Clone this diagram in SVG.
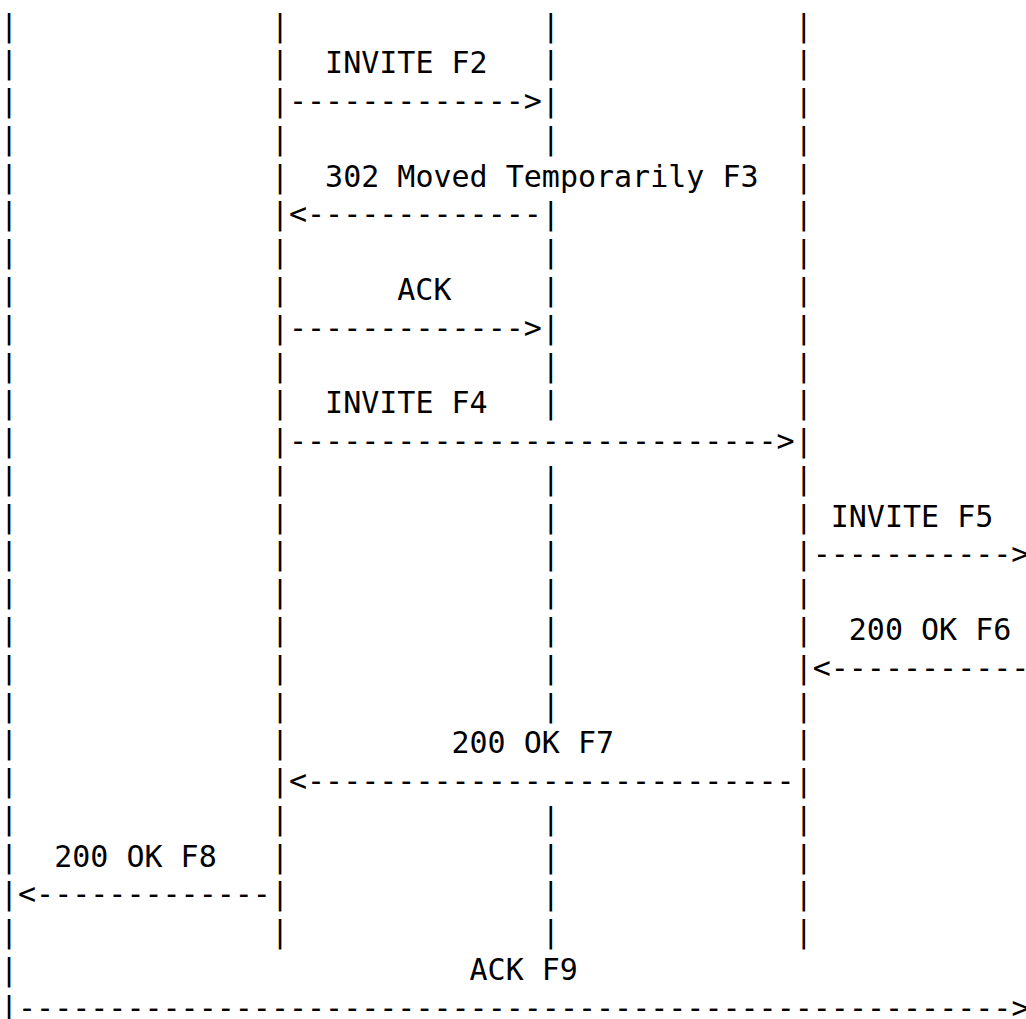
<svg xmlns="http://www.w3.org/2000/svg" width="1026" height="1019" viewBox="0 0 1026 1019">
<style>
.t{font-family:"DejaVu Sans Mono","Liberation Mono",monospace;font-size:30px;fill:#000;white-space:pre}
</style>
<rect x="0" y="0" width="1026" height="1019" fill="#fff"/>
<g id="lifeline-a">
<text class="t" x="0"><tspan x="0" y="35.5">|</tspan><tspan x="0" y="73.28">|</tspan><tspan x="0" y="111.06">|</tspan><tspan x="0" y="148.84">|</tspan><tspan x="0" y="186.62">|</tspan><tspan x="0" y="224.4">|</tspan><tspan x="0" y="262.18">|</tspan><tspan x="0" y="299.96">|</tspan><tspan x="0" y="337.74">|</tspan><tspan x="0" y="375.52">|</tspan><tspan x="0" y="413.3">|</tspan><tspan x="0" y="451.08">|</tspan><tspan x="0" y="488.86">|</tspan><tspan x="0" y="526.64">|</tspan><tspan x="0" y="564.42">|</tspan><tspan x="0" y="602.2">|</tspan><tspan x="0" y="639.98">|</tspan><tspan x="0" y="677.76">|</tspan><tspan x="0" y="715.54">|</tspan><tspan x="0" y="753.32">|</tspan><tspan x="0" y="791.1">|</tspan><tspan x="0" y="828.88">|</tspan><tspan x="0" y="866.66">|</tspan><tspan x="0" y="904.44">|</tspan><tspan x="0" y="942.22">|</tspan><tspan x="0" y="980">|</tspan><tspan x="0" y="1017.78">|</tspan></text>
</g>
<g id="lifeline-b">
<text class="t"><tspan x="270.9" y="35.5">|</tspan><tspan x="270.9" y="73.28">|</tspan><tspan x="270.9" y="111.06">|</tspan><tspan x="270.9" y="148.84">|</tspan><tspan x="270.9" y="186.62">|</tspan><tspan x="270.9" y="224.4">|</tspan><tspan x="270.9" y="262.18">|</tspan><tspan x="270.9" y="299.96">|</tspan><tspan x="270.9" y="337.74">|</tspan><tspan x="270.9" y="375.52">|</tspan><tspan x="270.9" y="413.3">|</tspan><tspan x="270.9" y="451.08">|</tspan><tspan x="270.9" y="488.86">|</tspan><tspan x="270.9" y="526.64">|</tspan><tspan x="270.9" y="564.42">|</tspan><tspan x="270.9" y="602.2">|</tspan><tspan x="270.9" y="639.98">|</tspan><tspan x="270.9" y="677.76">|</tspan><tspan x="270.9" y="715.54">|</tspan><tspan x="270.9" y="753.32">|</tspan><tspan x="270.9" y="791.1">|</tspan><tspan x="270.9" y="828.88">|</tspan><tspan x="270.9" y="866.66">|</tspan><tspan x="270.9" y="904.44">|</tspan><tspan x="270.9" y="942.22">|</tspan></text>
</g>
<g id="lifeline-c">
<text class="t"><tspan x="541.8" y="35.5">|</tspan><tspan x="541.8" y="73.28">|</tspan><tspan x="541.8" y="111.06">|</tspan><tspan x="541.8" y="148.84">|</tspan><tspan x="541.8" y="224.4">|</tspan><tspan x="541.8" y="262.18">|</tspan><tspan x="541.8" y="299.96">|</tspan><tspan x="541.8" y="337.74">|</tspan><tspan x="541.8" y="375.52">|</tspan><tspan x="541.8" y="413.3">|</tspan><tspan x="541.8" y="488.86">|</tspan><tspan x="541.8" y="526.64">|</tspan><tspan x="541.8" y="564.42">|</tspan><tspan x="541.8" y="602.2">|</tspan><tspan x="541.8" y="639.98">|</tspan><tspan x="541.8" y="677.76">|</tspan><tspan x="541.8" y="715.54">|</tspan><tspan x="541.8" y="828.88">|</tspan><tspan x="541.8" y="866.66">|</tspan><tspan x="541.8" y="904.44">|</tspan><tspan x="541.8" y="942.22">|</tspan></text>
</g>
<g id="lifeline-d">
<text class="t"><tspan x="794.64" y="35.5">|</tspan><tspan x="794.64" y="73.28">|</tspan><tspan x="794.64" y="111.06">|</tspan><tspan x="794.64" y="148.84">|</tspan><tspan x="794.64" y="186.62">|</tspan><tspan x="794.64" y="224.4">|</tspan><tspan x="794.64" y="262.18">|</tspan><tspan x="794.64" y="299.96">|</tspan><tspan x="794.64" y="337.74">|</tspan><tspan x="794.64" y="375.52">|</tspan><tspan x="794.64" y="413.3">|</tspan><tspan x="794.64" y="451.08">|</tspan><tspan x="794.64" y="488.86">|</tspan><tspan x="794.64" y="526.64">|</tspan><tspan x="794.64" y="564.42">|</tspan><tspan x="794.64" y="602.2">|</tspan><tspan x="794.64" y="639.98">|</tspan><tspan x="794.64" y="677.76">|</tspan><tspan x="794.64" y="715.54">|</tspan><tspan x="794.64" y="753.32">|</tspan><tspan x="794.64" y="791.1">|</tspan><tspan x="794.64" y="828.88">|</tspan><tspan x="794.64" y="866.66">|</tspan><tspan x="794.64" y="904.44">|</tspan><tspan x="794.64" y="942.22">|</tspan></text>
</g>
<g id="connectors">
<text class="t" x="288.96" y="111.06">-------------&gt;</text>
<text class="t" x="288.96" y="224.4">&lt;-------------</text>
<text class="t" x="288.96" y="337.74">-------------&gt;</text>
<text class="t" x="288.96" y="451.08">---------------------------&gt;</text>
<text class="t" x="812.7" y="564.42">-----------&gt;</text>
<text class="t" x="812.7" y="677.76">&lt;-----------</text>
<text class="t" x="288.96" y="791.1">&lt;---------------------------</text>
<text class="t" x="18.06" y="904.44">&lt;-------------</text>
<text class="t" x="18.06" y="1017.78">-------------------------------------------------------&gt;</text>
</g>
<g id="labels">
<text class="t" x="325.08" y="73.28">INVITE F2</text>
<text class="t" x="325.08" y="186.62">302 Moved Temporarily F3</text>
<text class="t" x="397.32" y="299.96">ACK</text>
<text class="t" x="325.08" y="413.3">INVITE F4</text>
<text class="t" x="830.76" y="526.64">INVITE F5</text>
<text class="t" x="848.82" y="639.98">200 OK F6</text>
<text class="t" x="451.5" y="753.32">200 OK F7</text>
<text class="t" x="54.18" y="866.66">200 OK F8</text>
<text class="t" x="469.56" y="980">ACK F9</text>
</g>
</svg>
